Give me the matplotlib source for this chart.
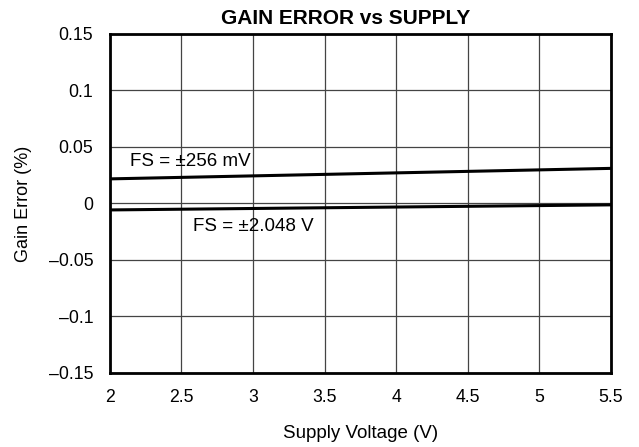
import matplotlib
matplotlib.use('Agg')
import matplotlib.pyplot as plt

plt.rcParams['font.family'] = ['Liberation Sans', 'DejaVu Sans']

supply_v = [2.0, 5.5]
err_256mv = [0.0217, 0.031]
err_2048v = [-0.0058, -0.0013]

x_ticks = [2, 2.5, 3, 3.5, 4, 4.5, 5, 5.5]
x_labels = ['2', '2.5', '3', '3.5', '4', '4.5', '5', '5.5']
y_ticks = [-0.15, -0.1, -0.05, 0, 0.05, 0.1, 0.15]
y_labels = ['\u20130.15', '\u20130.1', '\u20130.05', '0', '0.05', '0.1', '0.15']

fig = plt.figure(figsize=(6.39, 4.47), dpi=100)
ax = fig.add_axes([0.172, 0.166, 0.784, 0.758])

ax.plot(supply_v, err_256mv, color='black', lw=2.2)
ax.plot(supply_v, err_2048v, color='black', lw=2.2)

ax.text(2.14, 0.0370, 'FS = \u00b1256 mV', fontsize=13.5, va='center', ha='left')
ax.text(2.58, -0.0205, 'FS = \u00b12.048 V', fontsize=13.5, va='center', ha='left')

ax.set_xlim(2, 5.5)
ax.set_ylim(-0.15, 0.15)
ax.set_xticks(x_ticks)
ax.set_xticklabels(x_labels)
ax.set_yticks(y_ticks)
ax.set_yticklabels(y_labels)
ax.tick_params(length=0, labelsize=12.7, pad=12)
ax.grid(True, color='#444444', lw=0.9)
for s in ax.spines.values():
    s.set_linewidth(2)

ax.set_xlabel('Supply Voltage (V)', fontsize=13.5, labelpad=13)
ax.set_ylabel('Gain Error (%)', fontsize=13, labelpad=12)
ax.set_title('GAIN ERROR vs SUPPLY', fontsize=15, fontweight='bold', pad=7, x=0.471)

fig.savefig('out.png', dpi=100)
